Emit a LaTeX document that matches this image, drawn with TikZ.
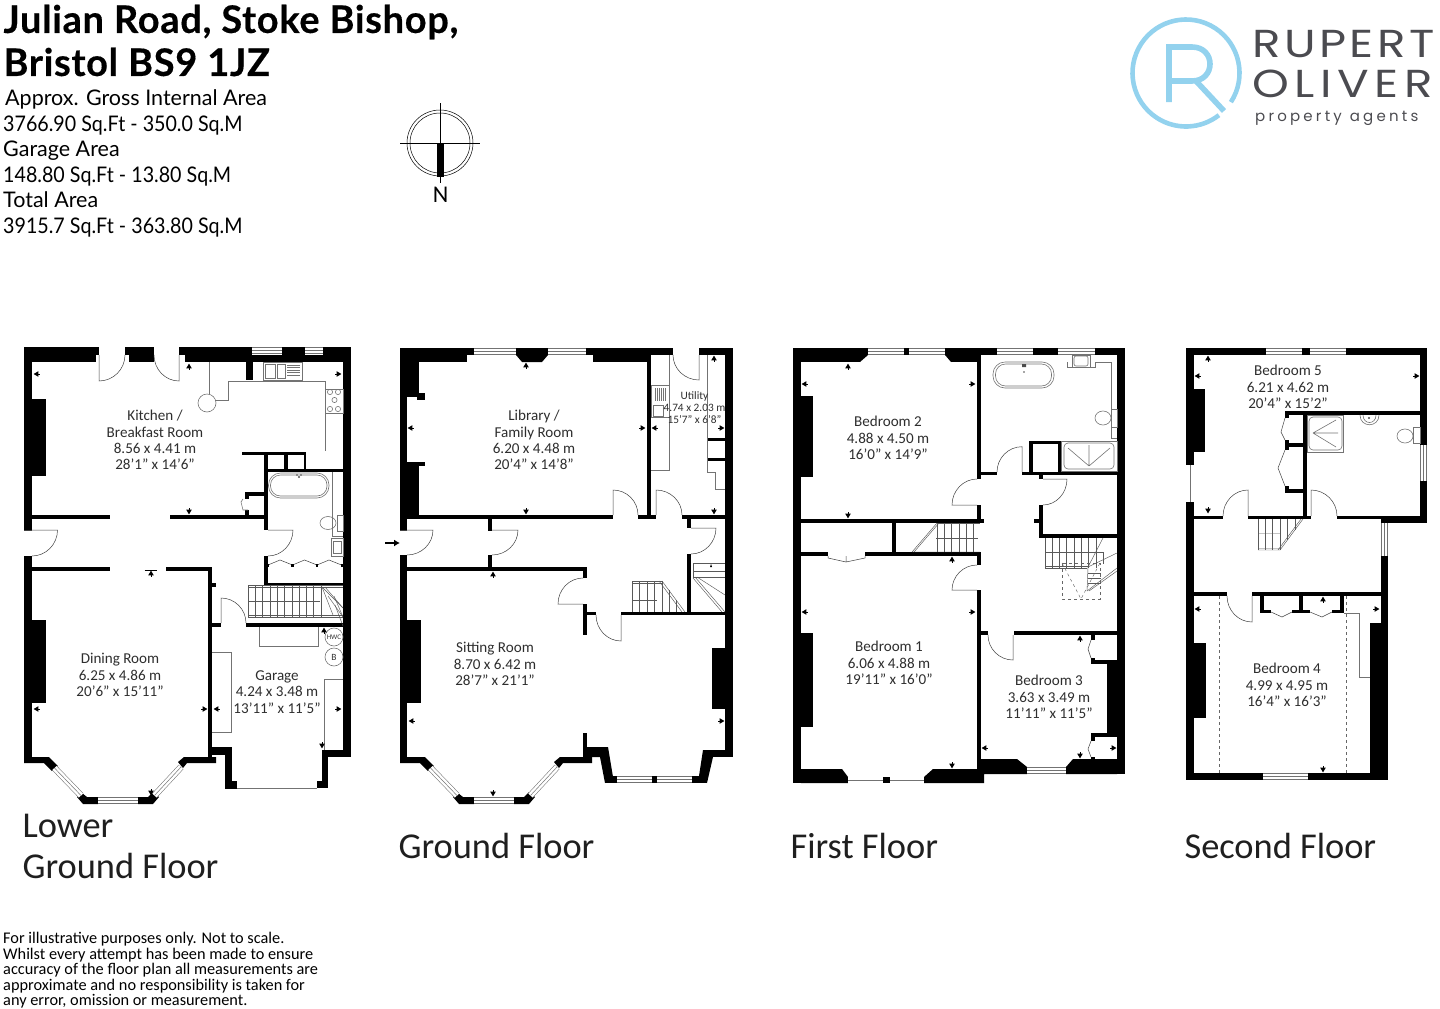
\documentclass[tikz,border=0pt]{standalone}
\usepackage{fontspec}
\setmainfont{Carlito}
\newfontfamily\headfont{Lato}
\newfontfamily\titlefont[BoldFeatures={LetterSpace=1.8,FakeBold=0.4}]{Lato}
\newfontfamily\logofont{Poppins}
\usetikzlibrary{calc,arrows.meta}
\definecolor{logoblue}{HTML}{93D2EE}
\definecolor{logogrey}{HTML}{4B4B50}
\tikzset{
    wall/.style={fill=black},
    fine/.style={draw=black!75,line width=0.5pt},
    fitting/.style={draw=black!55,line width=0.6pt},
    stairline/.style={draw=black!65,line width=0.45pt},
    dashline/.style={draw=black!60,line width=0.6pt,dashed},
    glass/.style={draw=black!55,line width=6.5pt,postaction={draw=white,line width=5.4pt},postaction={draw=black!55,line width=0.5pt}},
    roomlabel/.style={font=\fontsize{15.1}{16.2}\selectfont,text=black!82,align=center},
    floorlabel/.style={font=\fontsize{36.4}{40}\selectfont,text=black!88,anchor=west},
    arealabel/.style={font=\headfont\fontsize{21.5}{25.5}\selectfont,anchor=base west,inner sep=0pt},
    arealabelnum/.style={arealabel,xscale=0.915,transform shape},
    titlelabel/.style={anchor=west,font=\titlefont\bfseries\fontsize{38}{40}\selectfont},
    logoword/.style={anchor=west,font=\logofont\fontsize{39}{39}\selectfont,text=logogrey,inner sep=0pt,xscale=1.2,transform shape},
    dimtip/.pic={\fill (-2.4,-2.8) -- (2.4,0) -- (-2.4,2.8) -- cycle; \draw[line width=0.4pt] (-3.6,0) -- (-2.4,0);},
    baywall/.pic={
        \fill[wall] (24,757) -- (49,757) -- (58,766) -- (52,771) -- (44,763) -- (24,763) -- cycle;
        \fill[wall] (77,797) -- (82,793) -- (87,797) -- (98,797) -- (98,804) -- (83,804) -- cycle;
        \fill[wall] (138,797) -- (148,797) -- (153,792) -- (159,797) -- (153,804) -- (138,804) -- cycle;
        \fill[wall] (178,762) -- (184,757) -- (216,757) -- (216,763) -- (187,763) -- (183,768) -- cycle;
        \draw[glass] (54.5,768) -- (81,795.5);
        \draw[glass] (98,800.5) -- (138,800.5);
        \draw[glass] (154.5,795.5) -- (181,767);
    }
}
\newcommand{\doorswing}[3]{\draw[fine] (#1) -- (#2) .. controls ($(#2)+0.55*(#3)-0.55*(#1)$) and ($(#3)+0.55*(#2)-0.55*(#1)$) .. (#3);}
\begin{document}
\begin{tikzpicture}[x=1pt,y=-1pt]
    \useasboundingbox (0,0) rectangle (1440,1009);
    %% header
    \node[titlelabel] (titleone) at (0,22) {Julian Road, Stoke Bishop,};
    \node[titlelabel] (titletwo) at (0,62) {Bristol BS9 1JZ};
    \node[arealabel] (areaone) at (5,105.5) {Approx. Gross Internal Area};
    \node[arealabelnum] (areatwo) at (3,131.5) {3766.90 Sq.Ft - 350.0 Sq.M};
    \node[arealabel] (areathree) at (3,156.5) {Garage Area};
    \node[arealabelnum] (areafour) at (3,182.5) {148.80 Sq.Ft - 13.80 Sq.M};
    \node[arealabel] (areafive) at (3,207.5) {Total Area};
    \node[arealabelnum] (areasix) at (3,233.5) {3915.7 Sq.Ft - 363.80 Sq.M};
    %% compass
    \draw[line width=0.5pt] (440,143) circle (33);
    \draw[line width=0.5pt] (440,143) circle (30);
    \draw[line width=0.5pt] (400,143) -- (480,143);
    \draw[line width=0.5pt] (440,103) -- (440,183);
    \fill[wall] (436.5,143) rectangle (444,177);
    \node[font=\fontsize{24}{24}\selectfont] (compassn) at (440.5,195) {N};
    %% logo
    \begin{scope}[shift={(1186,73)},y=1pt]
        \draw[logoblue,line width=4.6pt] (-33:53.5) arc (-33:308:53.5);
    \end{scope}
    \draw[logoblue,line width=5.6pt] (1169,102) -- (1169,47) -- (1192,47) .. controls (1216,47) and (1216,81) .. (1192,81) -- (1169,81);
    \draw[logoblue,line width=5.6pt] (1196,81) -- (1224,111);
    \node[logoword] (logoone) at (1252,44) {R\kern2.9pt U\kern2.9pt P\kern2.9pt E\kern2.9pt R\kern2.9pt T};
    \node[logoword] (logotwo) at (1252,84) {O\kern4.7pt L\kern4.7pt I\kern4.7pt V\kern4.7pt E\kern4.7pt R};
    \node[anchor=west,font=\logofont\fontsize{15}{15}\selectfont,text=logogrey,inner sep=0pt] (logothree) at (1255,118) {p\kern3.2pt r\kern3.2pt o\kern3.2pt p\kern3.2pt e\kern3.2pt r\kern3.2pt t\kern3.2pt y\kern8pt a\kern3.2pt g\kern3.2pt e\kern3.2pt n\kern3.2pt t\kern3.2pt s};

    %% lower ground floor walls
    \foreach \a/\b/\c/\d in {24/347/32/531, 24/556/32/763, 24/347/99/355, 24/355/96/362, 125/347/154/355, 129/355/154/362,
        179/347/252/355, 185/355/343/362, 246/355/253/380, 282/347/305/355, 323/347/351/355, 343/347/351/757,
        322/750/351/757, 322/750/328/788, 317/781/328/788, 225/747/232/789, 225/781/237/789, 212/747/232/755,
        32/515/110/519, 170/515/268/519, 32/567/110/571, 166/567/212/571, 208/567/212/757, 212/583/216/587,
        212/623/221/627, 246/623/343/627, 264/453/268/530, 264/556/268/586, 264/583/343/586,
        242/452/306/455, 265/469/343/472, 284/452/288/470, 304/452/306/470,
        245/492/265/496, 245/492/249/499, 245/510/249/517, 32/399/46/476, 32/620/46/703}
        \fill[wall] (\a,\b) rectangle (\c,\d);
    \pic at (0,0) {baywall};
    \draw[glass] (252,350.5) -- (282,350.5);
    \draw[glass] (305,350.5) -- (323,350.5);
    \doorswing{99,355}{99,381}{125,355}
    \doorswing{179,355}{179,381}{154,355}
    \doorswing{32,530}{57.5,530}{32,556}
    \draw[fine] (24,530) -- (32,530);
    \doorswing{268,530}{293,530}{268,556}
    \doorswing{221,623}{221,598}{246,623}
    %% lower ground floor fittings
    \draw[fitting] (209,362) -- (209,394);
    \draw[fitting] (207,403) circle (9);
    \draw[fitting] (216,400) -- (228,400) -- (228,381) -- (325,381) -- (325,451);
    \draw[fitting] (263,362) rectangle (302,380);
    \draw[fitting] (265,364) rectangle (275,378);
    \draw[fitting] (277,364) rectangle (285,378);
    \foreach \y in {365,367.5,...,377} \draw[fitting,line width=0.35pt] (287,\y) -- (300,\y);
    \draw[fitting] (325,389) rectangle (343,413);
    \foreach \x/\y in {330/392, 338/392, 334.5/400, 330/409, 338/409} \draw[fitting] (\x,\y) circle (2.6);
    \draw[fitting,rounded corners=12pt] (268.5,473) rectangle (329,498);
    \draw[fitting,rounded corners=10pt] (270.5,475) rectangle (327,496);
    \fill[black!70] (299,477) circle (1.2) (297,475) circle (0.8) (301,475) circle (0.8);
    \draw[fitting] (332.7,472) -- (332.7,536) -- (343,536);
    \draw[fitting] (328,523) ellipse (8 and 6.5);
    \draw[fitting] (337,515) rectangle (343,531);
    \draw[fitting] (331,538) rectangle (343,556);
    \draw[fitting] (333,541) -- (341,541) -- (341,553) -- (333,553) -- cycle;
    \draw[fitting] (243,499) -- (241,502) -- (243,510) -- (248,510);
    \foreach \x in {268,292.5,317} \draw[fine] (\x,565) -- (\x+12,560) -- (\x+24.5,565);
    \foreach \x in {268,292.5,317,342} \fill[wall] (\x-1.2,564) rectangle (\x+1.2,567);
    \draw[fitting] (212,652) -- (231,652) -- (231,732) -- (212,732);
    \draw[fitting] (259,627) -- (259,646) -- (318,646) -- (318,627);
    \draw[fitting] (343,679) -- (324.5,679) -- (324.5,750);
    \draw[fitting] (237,788.5) -- (317,788.5);
    \draw[fitting] (334,637) circle (9);
    \draw[fitting] (334,657) circle (9);
    \node[font=\fontsize{7}{7}\selectfont,text=black!80,inner sep=0pt] (hwc) at (334,637) {HWC};
    \node[font=\fontsize{9.5}{9}\selectfont,text=black!80,inner sep=0pt] (boiler) at (334,657) {B};
    %% lower ground floor stairs
    \draw[stairline] (248,585) -- (343,585) (248,587) -- (343,587) (248,615) -- (343,615) (248,617) -- (343,617) (248,601) -- (320,601) (248,585) -- (248,617);
    \foreach \x in {255.3,262.6,...,322} \draw[stairline] (\x,585) -- (\x,617);
    \foreach \x/\y in {322/587, 325/587, 328/596, 334/596, 335/605} \draw[stairline] (\x,\y) -- (343,\y+21);
    \draw[stairline] (322,587) -- (333,615);
    %% lower ground floor tips
    \foreach \x/\y/\r in {36/374/180, 339/374/0, 189/366/90, 189/512/270, 151/573/90, 36/709/180, 205/709/0, 151/793/270,
        216/709/180, 339/709/0, 324/630/90, 322/746/270}
        \pic[rotate=\r] at (\x,\y) {dimtip};
    \draw[line width=0.4pt] (144.5,570.5) -- (156.5,570.5);
    %% lower ground floor labels
    \node[roomlabel] (kitchen) at (155,440) {Kitchen /\\Breakfast Room\\8.56 x 4.41 m\\28'1" x 14'6"};
    \node[roomlabel] (dining) at (120,675) {Dining Room\\6.25 x 4.86 m\\20'6" x 15'11"};
    \node[roomlabel] (garage) at (277,692) {Garage\\4.24 x 3.48 m\\13'11" x 11'5"};
    \node[floorlabel] (lgone) at (19,826) {Lower};
    \node[floorlabel] (lgtwo) at (19,866) {Ground Floor};

    %% ground floor walls
    \foreach \a/\b/\c/\d in {400/348/407/530, 400/555/407/763, 407/348/474/355, 407/355/467/362, 407/362/419/393, 407/393/425/397, 417/397/425/400,
        407/462/425/466, 407/466/419/515, 407/515/613/519, 638/515/656/519, 682/515/726/519,
        673/348/586/355, 593/355/651/362, 647/355/651/515, 651/348/673/355, 699/348/733/355, 725/348/733/757,
        703/750/733/757, 488/519/492/531, 488/555/492/567, 407/567/587/571, 583/567/587/578, 583/604/587/635,
        587/612/596/615, 621/612/726/615, 583/733/587/757, 687/519/691/528, 687/554/691/612,
        407/620/421/703, 712/648/725/709, 587/747/608/757, 605/776/617/783, 692/776/707/783, 652/776/657/783,
        707/438/725/441, 707/458/725/461}
        \fill[wall] (\a,\b) rectangle (\c,\d);
    \fill[wall] (516,348) -- (548,348) -- (548,355) -- (542,362) -- (522,362) -- (516,355) -- cycle;
    \fill[wall] (587,747) -- (608,747) -- (613,777) -- (605,783) -- (600,757) -- (587,757) -- cycle;
    \fill[wall] (703,750) -- (713,757) -- (707,783) -- (699,776) -- cycle;
    \pic at (376,0) {baywall};
    \draw[glass] (474,351.5) -- (516,351.5);
    \draw[glass] (548,351.5) -- (586,351.5);
    \draw[glass] (617,779.5) -- (652,779.5);
    \draw[glass] (657,779.5) -- (692,779.5);
    \doorswing{407,530}{433,530}{407,555}
    \draw[fine] (400,530) -- (407,530);
    \doorswing{492,530}{518,530}{492,555}
    \doorswing{691,528}{716,528}{691,554}
    \doorswing{613,515}{613,490}{638,515}
    \doorswing{656,515}{656,490}{682,515}
    \doorswing{699,355}{699,380}{673,355}
    \doorswing{583,604}{558,604}{583,578}
    \doorswing{621,615}{621,641}{596,615}
    \draw[line width=2pt,-{Latex[length=6pt,width=7pt]}] (385,543) -- (400,543);
    %% ground floor fittings
    \draw[fitting] (669,355) -- (669,470) -- (651,470);
    \draw[fitting] (651,385) rectangle (669,417);
    \draw[fitting] (653,405) rectangle (663,416);
    \foreach \x in {655,657,...,666} \draw[fitting,line width=0.35pt] (\x,388) -- (\x,401);
    \draw[fitting] (707,355) -- (707,472) -- (715,472) -- (715,489) -- (725,489);
    %% ground floor stairs
    \draw[stairline] (632,581) -- (662,581) (632,583) -- (663,583) (632,600) -- (657,600);
    \foreach \x/\y in {632/581, 639.5/581, 647/581, 654.5/581, 662/581, 669/590, 676/600} \draw[stairline] (\x,\y) -- (\x,612);
    \draw[stairline] (662,581) -- (685,612) (659,581) -- (682,612);
    \draw[stairline] (693,563) -- (725,563) (693,571) -- (725,571) (693,577) -- (725,577) (693,563) -- (693,578);
    \draw[stairline] (695,577) -- (725,612) (693,578) -- (722,612) (697,577) -- (725,595);
    \fill[black] (710,567) -- (711,564) -- (712,567) -- cycle;
    %% ground floor tips
    \foreach \x/\y/\r in {410/428/180, 643/428/0, 526/365/90, 526/512/270, 654/428/180, 722/428/0, 714/358/90, 714/512/270,
        411/721/180, 722/721/0, 493/574/90, 493/794/270}
        \pic[rotate=\r] at (\x,\y) {dimtip};
    %% ground floor labels
    \node[roomlabel] (library) at (534,440) {Library /\\Family Room\\6.20 x 4.48 m\\20'4" x 14'8"};
    \node[roomlabel] (sitting) at (495,664) {Sitting Room\\8.70 x 6.42 m\\28'7" x 21'1"};
    \node[roomlabel,font=\fontsize{11.3}{12}\selectfont] (utility) at (694.5,408) {Utility\\4.74 x 2.03 m\\15'7" x 6'8"};
    \node[floorlabel] (gfloor) at (395,846) {Ground Floor};

    %% first floor walls
    \foreach \a/\b/\c/\d in {793/348/801/783, 793/348/868/355, 801/355/860/362, 904/348/909/355, 945/348/997/355, 951/355/977/362,
        977/355/981/479, 977/505/981/523, 981/519/984/523, 801/519/984/523, 801/552/828/556, 865/552/981/556, 892/523/896/552,
        977/552/981/565, 977/590/981/759, 1033/348/1058/355, 1095/348/1125/355, 1117/348/1125/774,
        981/472/997/475, 1022/472/1117/475, 1039/475/1043/479, 1039/505/1043/538, 1034/519/1039/523, 1039/534/1117/538,
        1029/441/1061/444, 1029/441/1033/472, 1058/441/1061/472,
        981/631/988/635, 1014/631/1117/635, 1091/635/1095/640, 1091/658/1095/664, 1091/660/1117/664, 1107/663/1117/734,
        1091/733/1117/737, 1091/737/1095/741, 1091/757/1095/760, 801/396/813/477, 801/633/813/727,
        883/777/890/783}
        \fill[wall] (\a,\b) rectangle (\c,\d);
    \fill[wall] (945,355) -- (951,355) -- (951,362) -- cycle;
    \fill[wall] (860,362) -- (868,355) -- (860,355) -- cycle;
    \fill[wall] (801,769) -- (842,769) -- (848,777) -- (848,783) -- (801,783) -- cycle;
    \fill[wall] (924,777) -- (933,769) -- (977,769) -- (977,759) -- (1017,759) -- (1027,767) -- (1027,774) -- (984,774) -- (984,783) -- (924,783) -- cycle;
    \fill[wall] (1066,767) -- (1073,759) -- (1117,759) -- (1117,774) -- (1066,774) -- cycle;
    \draw[glass] (868,351.5) -- (904,351.5);
    \draw[glass] (909,351.5) -- (945,351.5);
    \draw[glass] (997,351.5) -- (1033,351.5);
    \draw[glass] (1058,351.5) -- (1095,351.5);
    \draw[glass] (848,780) -- (883,780);
    \draw[glass] (890,780) -- (924,780);
    \draw[glass] (1027,770.5) -- (1066,770.5);
    \doorswing{977,505}{952,505}{977,479}
    \doorswing{1022,472}{1022,446.7}{997,472}
    \doorswing{1043,479}{1067,479}{1043,505}
    \doorswing{977,590}{952,590}{977,565}
    \doorswing{1013,635}{1013,660}{988,635}
    %% first floor fittings
    \draw[fitting,rounded corners=12pt] (993,362) rectangle (1054,388);
    \draw[fitting,rounded corners=10pt] (995.5,364) rectangle (1051.5,386);
    \fill[black!70] (1024,372) circle (0.9) (1022,364) rectangle (1026,367);
    \draw[fitting] (1067,362) -- (1067,367) -- (1095,367) -- (1095,362) -- (1111,362) -- (1111,438) -- (1117,438);
    \draw[fitting] (1072,355) rectangle (1090,367);
    \draw[fitting,rounded corners=2pt] (1074,356) rectangle (1088,366);
    \draw[fitting] (1103,418) ellipse (8 and 7);
    \draw[fitting] (1111,409) rectangle (1117,427);
    \draw[fitting] (1061,441) rectangle (1117,471);
    \draw[fitting,rounded corners=4pt] (1064,443) rectangle (1114,469);
    \draw[fitting] (1089,466) -- (1068,448) (1089,466) -- (1110,448) (1089,466) -- (1089,445);
    \draw[fine] (828,556) -- (828,558) -- (846,562) -- (865,558) -- (865,556) (846,556) -- (846,562);
    \draw[fine] (1091,640) -- (1088,649) -- (1091,658);
    \draw[fine] (1091,741) -- (1088,749) -- (1091,757);
    %% first floor stairs
    \draw[stairline] (937,523) -- (980,523) (936,538) -- (978,538);
    \foreach \x in {937,944.3,...,980} \draw[stairline] (\x,523) -- (\x,552);
    \draw[stairline] (937,523) -- (912,552) (939,523) -- (914,552) (912,552) -- (980,552);
    \draw[stairline] (1045,538) -- (1045,568) (1045,566) -- (1088,566) (1045,568) -- (1087,568) (1045,552) -- (1103,552) (1103,552) -- (1103,564);
    \foreach \x in {1052,1059.3,...,1096} \draw[stairline] (\x,538) -- (\x,568);
    \draw[stairline] (1103,538) -- (1088,567) (1088,567) -- (1117,553) (1088,567) -- (1087,591);
    \draw[stairline] (1087,591) -- (1117,568) (1089,591) -- (1117,571);
    \foreach \y in {573,578,583} \draw[stairline] (1088,\y) -- (1101,\y);
    \draw[dashline,line width=0.45pt] (1062,563) rectangle (1100,599);
    \draw[dashline,line width=0.45pt] (1062,563) -- (1081,599) -- (1100,563);
    %% first floor tips
    \foreach \x/\y/\r in {804/384/180, 973/384/0, 848/366/90, 848/516/270, 804/612/180, 973/612/0, 952/559/90, 952/766/270,
        984/748/180, 1114/748/0, 1080/638/90, 1080/756/270}
        \pic[rotate=\r] at (\x,\y) {dimtip};
    %% first floor labels
    \node[roomlabel] (bedtwo) at (888,438) {Bedroom 2\\4.88 x 4.50 m\\16'0" x 14'9"};
    \node[roomlabel] (bedone) at (889,663) {Bedroom 1\\6.06 x 4.88 m\\19'11" x 16'0"};
    \node[roomlabel] (bedthree) at (1049,697) {Bedroom 3\\3.63 x 3.49 m\\11'11" x 11'5"};
    \node[floorlabel] (ffloor) at (787,846) {First Floor};

    %% second floor walls
    \foreach \a/\b/\c/\d in {1186/348/1266/355, 1302/348/1310/355, 1346/348/1427/355, 1420/348/1427/445, 1420/481/1427/523,
        1186/348/1194/465, 1186/502/1194/780, 1186/773/1263/780, 1308/773/1388/780, 1381/516/1427/523, 1381/556/1388/780,
        1194/389/1205/452, 1194/643/1206/718, 1370/623/1381/773, 1285/411/1420/415, 1303/415/1307/519,
        1194/516/1223/519, 1248/516/1311/519, 1337/516/1382/519, 1285/411/1289/418, 1285/440/1289/450, 1285/443/1303/447,
        1285/486/1289/493, 1285/489/1303/493, 1194/592/1227/596, 1252/592/1381/596,
        1260/596/1264/613, 1260/610/1271/613, 1299/596/1303/613, 1292/610/1310/613, 1340/596/1344/613, 1332/610/1344/613}
        \fill[wall] (\a,\b) rectangle (\c,\d);
    \draw[glass] (1266,351.5) -- (1302,351.5);
    \draw[glass] (1310,351.5) -- (1346,351.5);
    \draw[glass] (1423.5,445) -- (1423.5,481);
    \draw[glass] (1190,465) -- (1190,502);
    \draw[glass] (1384.5,523) -- (1384.5,556);
    \draw[glass] (1263,776.5) -- (1308,776.5);
    \doorswing{1248,516}{1248,490}{1223,516}
    \doorswing{1311,516}{1311,490}{1337,516}
    \doorswing{1252,596}{1252,622}{1227,596}
    %% second floor fittings
    \draw[fitting] (1307,415) rectangle (1343,452);
    \draw[fitting,rounded corners=4pt] (1309,417) rectangle (1342,450);
    \draw[fitting] (1313,433) -- (1336,420) (1313,433) -- (1338,433) (1313,433) -- (1336,447);
    \draw[fitting] (1360,415) .. controls (1360,428) and (1379,428) .. (1379,415);
    \draw[fitting] (1363,415) .. controls (1363,425) and (1376,425) .. (1376,415);
    \fill[black!70] (1369,418) circle (1.2);
    \draw[fitting] (1405,436) ellipse (8 and 7);
    \draw[fitting] (1413,427) rectangle (1420,443);
    \draw[fine] (1285,418) -- (1281,432) -- (1285,440);
    \draw[fine] (1285,450) -- (1278,468) -- (1285,486);
    \draw[fine] (1271,612) -- (1282,617) -- (1292,612) (1310,612) -- (1322,617) -- (1332,612);
    \draw[fitting] (1344,613) -- (1359,613) -- (1359,677) -- (1370,677);
    \draw[dashline] (1219,596) -- (1219,773);
    \draw[dashline] (1346,596) -- (1346,773);
    %% second floor stairs
    \foreach \x/\y in {1258/550, 1265.3/550, 1272.6/550, 1280/550, 1287.3/540, 1295/530} \draw[stairline] (\x,519) -- (\x,\y);
    \draw[stairline] (1303,519) -- (1280,550) (1301,519) -- (1278,550) (1258,550) -- (1280,550) (1258,548.5) -- (1280,548.5) (1258,533.5) -- (1280,533.5);
    %% second floor tips
    \foreach \x/\y/\r in {1197/376/180, 1417/376/0, 1208/358/90, 1208/511/270, 1197/609/180, 1377/609/0, 1323/599/90, 1323/770/270}
        \pic[rotate=\r] at (\x,\y) {dimtip};
    %% second floor labels
    \node[roomlabel] (bedfive) at (1288,387) {Bedroom 5\\6.21 x 4.62 m\\20'4" x 15'2"};
    \node[roomlabel] (bedfour) at (1287,685) {Bedroom 4\\4.99 x 4.95 m\\16'4" x 16'3"};
    \node[floorlabel] (sfloor) at (1181,846) {Second Floor};

    %% small print
    \node[anchor=north west,align=left,inner sep=0pt,font=\fontsize{16.3}{15.5}\selectfont] (smallprint) at (3,932) {For illustrative purposes only. Not to scale.\\Whilst every attempt has been made to ensure\\accuracy of the floor plan all measurements are\\approximate and no responsibility is taken for\\any error, omission or measurement.};
\end{tikzpicture}
\end{document}
